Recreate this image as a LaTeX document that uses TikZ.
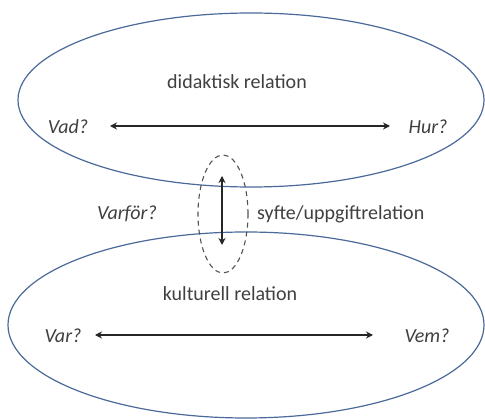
\documentclass[tikz,border=0pt]{standalone}
\usepackage{fontspec}
\setmainfont{Carlito}
\usetikzlibrary{shapes.geometric,arrows.meta}
\definecolor{ellblue}{HTML}{4A6A9A}
\definecolor{txt}{HTML}{404040}
\begin{document}
\begin{tikzpicture}[x=1pt,y=-1pt,
  bigell/.style={draw=ellblue,line width=1.2pt,ellipse,inner sep=0pt},
  dashell/.style={draw=txt!90,dash pattern=on 5pt off 4pt,line width=1.1pt,ellipse,inner sep=0pt},
  lbl/.style={text=txt,font=\fontsize{20}{22}\selectfont,inner sep=0pt},
  qlbl/.style={lbl,font=\fontsize{20}{22}\selectfont\itshape},
  dblarrow/.style={draw=black!85,line width=1.6pt,{Stealth[length=7pt,width=7pt]}-{Stealth[length=7pt,width=7pt]}}]
\useasboundingbox (0,0) rectangle (485,419);
\fill[white] (0,0) rectangle (485,419);
\node[bigell,minimum width=466pt,minimum height=174pt] (top) at (251,100) {};
\node[bigell,minimum width=476pt,minimum height=186pt] (bot) at (246,325) {};
\node[dashell,minimum width=50pt,minimum height=118pt] (dash) at (223,214) {};
\node[lbl] (did) at (237,82) {didaktisk relation};
\node[qlbl] (vad) at (68,127) {Vad?};
\node[qlbl] (hur) at (428,127) {Hur?};
\node[qlbl] (varfor) at (127,214) {Varför?};
\node[lbl,anchor=west] (syfte) at (257,214) {syfte/uppgiftrelation};
\node[lbl] (kult) at (230,294) {kulturell relation};
\node[qlbl] (var) at (63,336) {Var?};
\node[qlbl] (vem) at (427,336) {Vem?};
\coordinate (a1) at (110,126);
\coordinate (a2) at (390,126);
\coordinate (b1) at (95,335);
\coordinate (b2) at (373,335);
\coordinate (c1) at (222,176);
\coordinate (c2) at (222,245);
\draw[dblarrow] (a1) -- (a2);
\draw[dblarrow] (b1) -- (b2);
\draw[dblarrow] (c1) -- (c2);
\end{tikzpicture}
\end{document}
